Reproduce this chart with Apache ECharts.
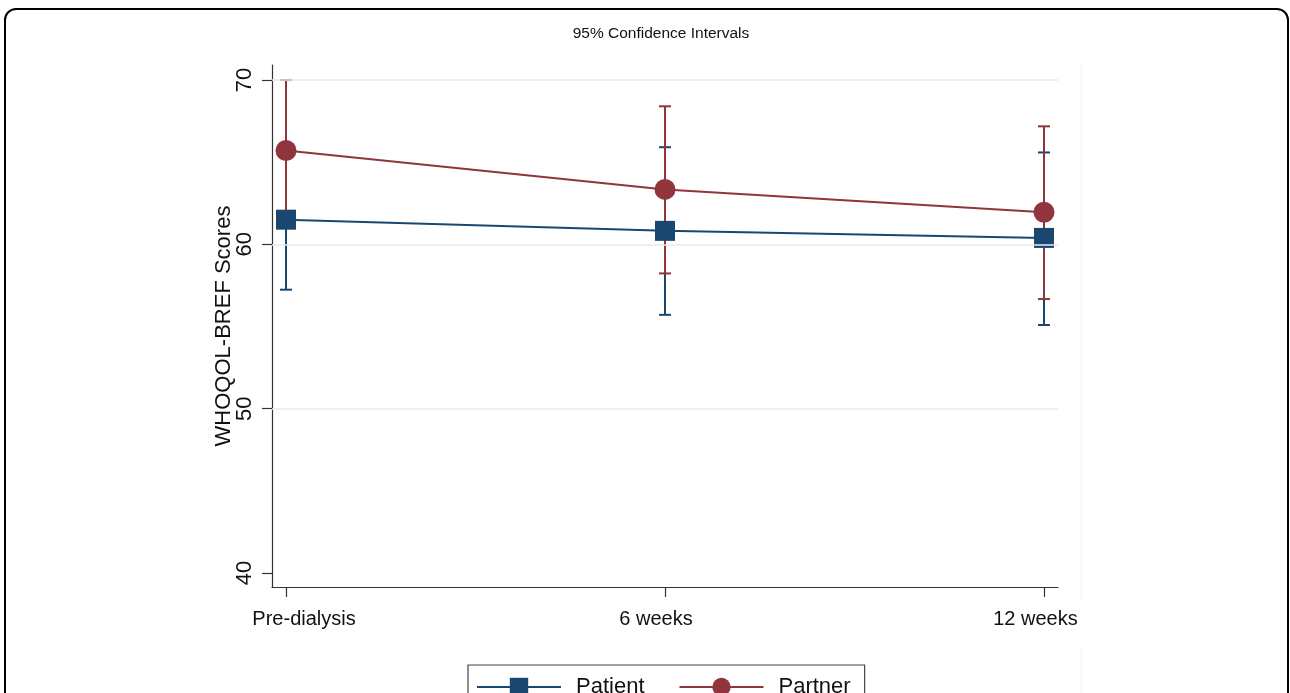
<!DOCTYPE html>
<html>
<head>
<meta charset="utf-8">
<script src="https://cdn.jsdelivr.net/npm/echarts@6/dist/echarts.min.js"></script>
<style>
html,body{margin:0;padding:0;background:#fff;}
#chart{width:1290px;height:693px;}
</style>
</head>
<body>
<div id="chart"></div>
<script>
// ---- data ----
const categories = ['Pre-dialysis', '6 weeks', '12 weeks'];
const patientMean = [61.5, 60.82, 60.39];
const patientLow  = [57.24, 55.71, 55.09];
const patientHigh = [65.76, 65.91, 65.59];
const partnerMean = [65.71, 63.34, 61.95];
const partnerLow  = [61.42, 58.23, 56.67];
const partnerHigh = [70.0, 68.40, 67.18];
const yTicks = [40, 50, 60, 70];
const xTicks = [0, 1, 2];

const navy = '#1a476f';
const maroon = '#90353b';
const FONT = 'Liberation Sans, Arial, sans-serif';

const chart = echarts.init(document.getElementById('chart'));

function errData(low, high) {
  return categories.map((c, i) => [i, low[i], high[i]]);
}
function errRender(color) {
  return function (params, api) {
    const x = api.value(0);
    const lo = api.coord([x, api.value(1)]);
    const hi = api.coord([x, api.value(2)]);
    const hw = 6;
    const st = { stroke: color, lineWidth: 2 };
    return {
      type: 'group',
      children: [
        { type: 'line', shape: { x1: lo[0], y1: lo[1], x2: hi[0], y2: hi[1] }, style: st },
        { type: 'line', shape: { x1: lo[0] - hw, y1: lo[1], x2: lo[0] + hw, y2: lo[1] }, style: st },
        { type: 'line', shape: { x1: hi[0] - hw, y1: hi[1], x2: hi[0] + hw, y2: hi[1] }, style: st }
      ]
    };
  };
}

const labelStyles = ['a', 'b', 'c'];

const option = {
  animation: false,
  backgroundColor: '#fff',
  textStyle: { fontFamily: FONT },
  grid: { left: 272, right: 232, top: 65, bottom: 106, containLabel: false },
  xAxis: {
    type: 'value',
    min: -0.037, max: 2.037,
    axisLine: { show: true, onZero: false, lineStyle: { color: '#333', width: 1.2 } },
    axisTick: { show: true, customValues: xTicks, length: 10, lineStyle: { color: '#333', width: 1.2 } },
    axisLabel: {
      customValues: xTicks, fontSize: 20, color: '#111', margin: 22, fontFamily: FONT,
      formatter: v => { const i = Math.round(v); return '{' + labelStyles[i] + '|' + categories[i] + '}'; },
      rich: {
        a: { fontSize: 20, color: '#111', fontFamily: FONT, padding: [0, 0, 0, 36] },
        b: { fontSize: 20, color: '#111', fontFamily: FONT, padding: [0, 18, 0, 0] },
        c: { fontSize: 20, color: '#111', fontFamily: FONT, padding: [0, 17, 0, 0] }
      }
    },
    splitLine: { show: false }
  },
  yAxis: {
    type: 'value',
    min: 39.148, max: 70.913,
    name: 'WHOQOL-BREF Scores', nameLocation: 'middle', nameRotate: 90, nameGap: 37,
    nameMoveOverlap: false,
    nameTextStyle: { fontSize: 22, color: '#111', fontFamily: FONT },
    axisLine: { show: true, onZero: false, lineStyle: { color: '#333', width: 1.2 } },
    axisTick: { show: true, customValues: yTicks, length: 10, lineStyle: { color: '#333', width: 1.2 } },
    axisLabel: { customValues: yTicks, rotate: 90, fontSize: 22, color: '#111', margin: 16, fontFamily: FONT },
    splitLine: { show: false }
  },
  legend: {
    left: 468, top: 665,
    orient: 'horizontal',
    data: ['Patient', 'Partner'],
    itemWidth: 84, itemHeight: 23, itemGap: 34,
    padding: [11, 14, 11, 8],
    borderColor: '#444', borderWidth: 1.2, borderRadius: 0,
    textStyle: { fontSize: 22, color: '#111', fontFamily: FONT, padding: [0, 0, 0, 10] }
  },
  graphic: [
    { type: 'rect', shape: { x: 5, y: 9, width: 1283, height: 720, r: 11 },
      style: { fill: 'none', stroke: '#000', lineWidth: 2 }, z: 100 },
    { type: 'line', shape: { x1: 1081, y1: 63, x2: 1081, y2: 600 }, style: { stroke: '#f1f1f1', lineWidth: 1 }, z: -1 },
    { type: 'line', shape: { x1: 1081, y1: 648, x2: 1081, y2: 693 }, style: { stroke: '#f1f1f1', lineWidth: 1 }, z: -1 },
    { type: 'text', x: 661, y: 34,
      style: { text: '95% Confidence Intervals', font: '15.5px ' + FONT, fill: '#111', textAlign: 'center', textVerticalAlign: 'middle' } }
  ],
  series: [
    {
      name: 'grid', type: 'line', data: [], silent: true, z: 0,
      markLine: {
        silent: true, symbol: 'none', label: { show: false },
        lineStyle: { color: '#e2ecf0', width: 1.5, type: 'solid' },
        data: [{ yAxis: 50 }, { yAxis: 60 }, { yAxis: 70 }]
      }
    },
    { name: 'patientErr', type: 'custom', renderItem: errRender(navy), data: errData(patientLow, patientHigh), z: 1, silent: true },
    { name: 'partnerErr', type: 'custom', renderItem: errRender(maroon), data: errData(partnerLow, partnerHigh), z: 2, silent: true },
    {
      name: 'Patient', type: 'line', z: 3,
      data: patientMean.map((v, i) => [i, v]),
      symbol: 'rect', symbolSize: 20,
      lineStyle: { color: navy, width: 2 },
      itemStyle: { color: navy }
    },
    {
      name: 'Partner', type: 'line', z: 4,
      data: partnerMean.map((v, i) => [i, v]),
      symbol: 'circle', symbolSize: 21,
      lineStyle: { color: maroon, width: 2 },
      itemStyle: { color: maroon }
    }
  ]
};
chart.setOption(option);
</script>
</body>
</html>
